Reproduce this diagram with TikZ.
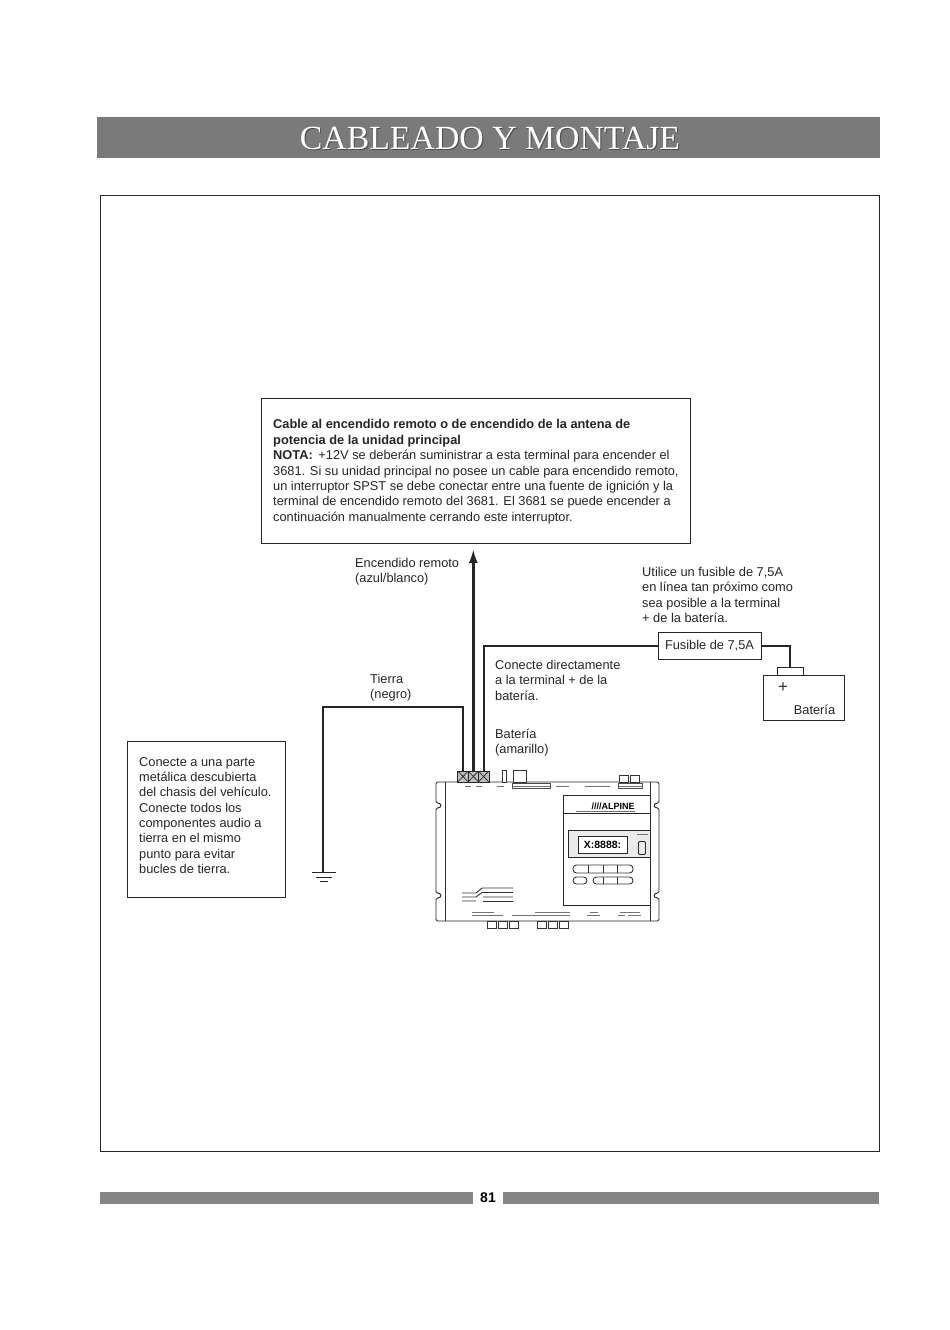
\documentclass[tikz,border=0pt]{standalone}
\usepackage{fontspec}
\setmainfont{Liberation Sans}
\newfontfamily\titlefont{Liberation Serif}
\usetikzlibrary{positioning, arrows.meta}
\tikzset{
    note/.style={anchor=north west, inner sep=0pt, align=left, text=black!85,
        font=\fontsize{12.8}{15.35}\selectfont},
    wire/.style={draw=black!85, line width=2pt},
    box/.style={draw=black!85, line width=0.8pt, inner sep=0pt},
    part/.style={draw=black!80, line width=0.6pt, fill=white, inner sep=0pt, minimum height=11pt},
    terminal/.style={draw=black!85, line width=0.7pt, inner sep=0pt, minimum width=10.6pt,
        minimum height=11pt, fill=black!25, path picture={
        \draw[black!80, line width=0.8pt] (path picture bounding box.south west) -- (path picture bounding box.north east)
        (path picture bounding box.south east) -- (path picture bounding box.north west);}},
    jack/.style={draw=black!80, line width=0.8pt, fill=white, inner sep=0pt, minimum width=8pt, minimum height=7pt},
    key/.style={draw=black!80, line width=0.9pt, rounded corners=3.5pt},
    tiny/.style={draw=black!55, line width=0.9pt},
}
\begin{document}
\begin{tikzpicture}[x=1pt, y=-1pt]
\useasboundingbox (0,0) rectangle (950,1330);
\fill[white] (0,0) rectangle (950,1330);

% title band and frame
\node[fill=black!52, minimum width=783pt, minimum height=41pt, inner sep=0pt] (band) at (488.5,137.5) {};
\node[text=black!70] at (491,139) {\titlefont\fontsize{33.8}{34}\selectfont CABLEADO Y MONTAJE};
\node[text=white] (title) at (490,138) {\titlefont\fontsize{33.8}{34}\selectfont CABLEADO Y MONTAJE};
\node[box, minimum width=779pt, minimum height=956pt] (frame) at (489.5,673) {};

% note box
\node[box, minimum width=429pt, minimum height=145pt] (notebox) at (475.5,470.5) {};
\node[note] (notetext) at (273,419.5) {\textbf{Cable al encendido remoto o de encendido de la antena de}\\
\textbf{potencia de la unidad principal}\\
\textbf{NOTA:}\, +12V se deberán suministrar a esta terminal para encender el\\
3681. Si su unidad principal no posee un cable para encendido remoto,\\
un interruptor SPST se debe conectar entre una fuente de ignición y la\\
terminal de encendido remoto del 3681. El 3681 se puede encender a\\
continuación manualmente cerrando este interruptor.};

% chassis box
\node[box, minimum width=158pt, minimum height=156pt] (chassisbox) at (206,819) {};
\node[note] (chassistext) at (139,757) {Conecte a una parte\\
metálica descubierta\\
del chasis del vehículo.\\
Conecte todos los\\
componentes audio a\\
tierra en el mismo\\
punto para evitar\\
bucles de tierra.};

% labels
\node[note] (lblremote) at (355,558) {Encendido remoto\\(azul/blanco)};
\node[note] (lblground) at (370,674) {Tierra\\(negro)};
\node[note] (lbldirect) at (495,660) {Conecte directamente\\a la terminal + de la\\batería.};
\node[note] (lblbatt) at (495,729) {Batería\\(amarillo)};
\node[note] (lblfuse) at (642,567) {Utilice un fusible de 7,5A\\en línea tan próximo como\\sea posible a la terminal\\+ de la batería.};

% device body
\draw[draw=black!85, line width=0.9pt, fill=white, rounded corners=1.5pt]
    (436,782) -- (659,782) -- (659,803) .. controls (653,803) and (653,808) .. (659,808) -- (659,893)
    .. controls (653,893) and (653,898) .. (659,898) -- (659,921) -- (436,921) -- (436,898)
    .. controls (442,898) and (442,893) .. (436,893) -- (436,808)
    .. controls (442,808) and (442,803) .. (436,803) -- cycle;
\node[minimum width=223pt, minimum height=139pt, inner sep=0pt] (device) at (547.5,851.5) {};
\draw[black!80, line width=0.7pt] (445,782) -- (445,921) (650,782) -- (650,921);

% device top connectors
\node[terminal] (t1) at (463,776.5) {};
\node[terminal, right=-1pt of t1] (t2) {};
\node[terminal, right=-1pt of t2] (t3) {};
\node[part, minimum width=4pt, minimum height=12pt] (antenna) at (504.5,776) {};
\node[part, minimum width=13pt, minimum height=12pt] (topbox) at (519.5,776) {};
\node[jack, minimum width=9pt] (rj1) at (624,778.5) {};
\node[jack, minimum width=9pt, right=1pt of rj1] (rj2) {};
\draw[tiny] (465,786) -- (471,786) (476,786) -- (482,786) (497,786) -- (504,786)
    (512,786) -- (550,786) (556,786) -- (569,786) (585,786) -- (610,786) (618,786) -- (642,786);
\draw[black!70, line width=0.6pt] (512,783.5) rectangle (550,788.5) (618,783.5) rectangle (642,788.5);

% device bottom connectors
\foreach \x/\n in {492/b1, 503/b2, 514/b3, 542/b4, 553/b5, 564/b6}
    \node[jack, minimum width=9pt] (\n) at (\x,924.5) {};
\draw[tiny] (472,915) -- (503,915) (512,915) -- (570,915) (587,915) -- (600,915) (618,915) -- (625,915) (628,915) -- (641,915);
\draw[tiny] (472,912) -- (494,912) (535,912) -- (570,912) (590,912) -- (598,912) (620,912) -- (640,912);

% logo
\draw[black!80, line width=0.9pt] (462,893) -- (476,893) -- (482,888) -- (513,888)
    (462,897) -- (476,897) -- (482,892.5) -- (513,892.5)
    (462,901) -- (476,901) (483,897) -- (513,897) (483,901.5) -- (513,901.5);

% front panel
\node[draw=black!85, line width=0.9pt, fill=white, minimum width=87pt, minimum height=110pt, inner sep=0pt] (panel) at (606.5,850) {};
\draw[black!85, line width=0.8pt] (563,813) -- (650,813);
\node[inner sep=0pt, font=\bfseries\fontsize{9}{9}\selectfont] (logotext) at (613,806.5) {////ALPINE};
\draw[tiny] (576,811) -- (635,811);
\node[draw=black!85, line width=0.9pt, fill=black!8, minimum width=82pt, minimum height=27pt, inner sep=0pt] (dispband) at (609,843.5) {};
\node[draw=black!85, line width=0.8pt, fill=white, minimum width=49pt, minimum height=17pt, inner sep=0pt,
    font=\bfseries\fontsize{10.5}{10.5}\selectfont] (display) at (602.5,844.5) {X:8888:};
\node[draw=black!85, line width=0.9pt, minimum width=7pt, minimum height=13pt, inner sep=0pt, rounded corners=1pt] (knob) at (642,848) {};
\draw[tiny] (637,834) -- (648,834);
\node[key, minimum width=60pt, minimum height=8pt, inner sep=0pt] (key1) at (603,869) {};
\node[key, minimum width=14pt, minimum height=7pt, inner sep=0pt] (key2) at (580,880.5) {};
\node[key, minimum width=40pt, minimum height=7pt, inner sep=0pt] (key3) at (613,880.5) {};
\draw[black!80, line width=0.8pt] (588,865) -- (588,873) (603,865) -- (603,873) (617,865) -- (617,873)
    (603,877) -- (603,884) (617,877) -- (617,884);

% fuse and battery
\node[box, fill=white, minimum width=103pt, minimum height=27pt, font=\fontsize{12.8}{15.35}\selectfont, text=black!85] (fuse) at (709.5,645.5) {Fusible de 7,5A};
\node[box, minimum width=81pt, minimum height=45pt] (battery) at (803.5,697.5) {};
\node[box, minimum width=26pt, minimum height=8pt] (batcap) at (790,671) {};
\node[inner sep=0pt, font=\fontsize{17}{17}\selectfont, text=black!80] (plus) at (783,688) {+};
\node[inner sep=0pt, font=\fontsize{12.8}{15.35}\selectfont, text=black!85] (lblbattery) at (814.5,710) {Batería};

% ground
\coordinate (gndtop) at (323,872);
\coordinate (arrowtip) at (473,549);
\draw[line width=1.2pt, black!85] (312,872.5) -- (336,872.5);
\draw[line width=1pt, black!85] (316,877) -- (332,877);
\draw[line width=1pt, black!85] (320,881.5) -- (328,881.5);

% wires
\draw[wire] (t1.north) |- (323,707) -- (gndtop);
\draw[wire, line width=2.6pt, -{Latex[length=14pt, width=9pt]}] (t2.north) -- (t2.north |- arrowtip);
\draw[wire] (t3.north) |- (fuse.west);
\draw[wire] (fuse.east) -| (batcap.north);

% footer
\node[fill=black!48, minimum width=373pt, minimum height=12pt, inner sep=0pt] (footl) at (286.5,1198) {};
\node[fill=black!48, minimum width=376pt, minimum height=12pt, inner sep=0pt] (footr) at (691,1198) {};
\node[inner sep=0pt, font=\bfseries\fontsize{14}{14}\selectfont] (pagenum) at (488,1198) {81};
\end{tikzpicture}
\end{document}
